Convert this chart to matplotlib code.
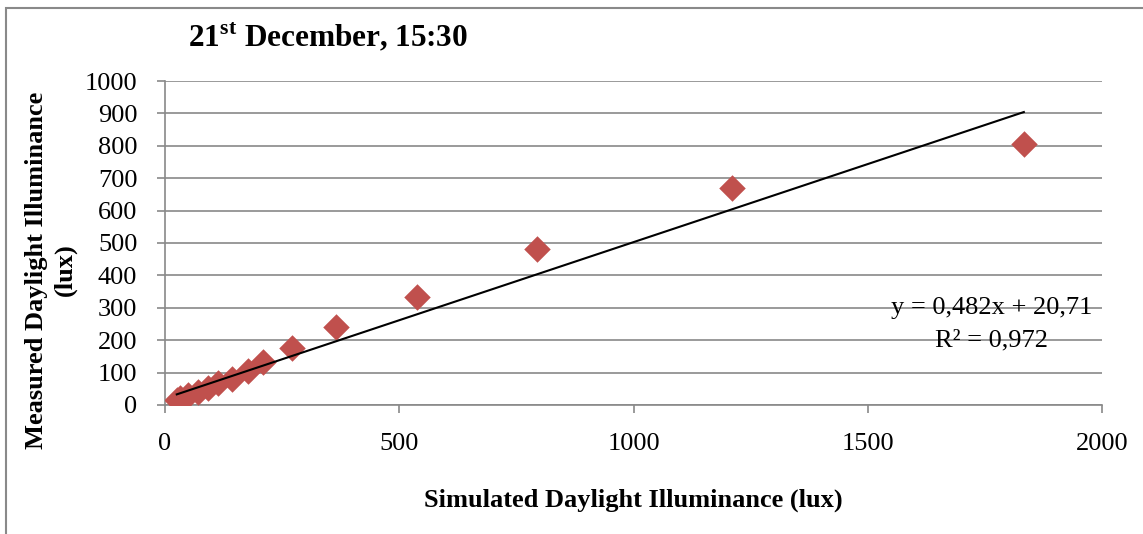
import numpy as np
import matplotlib
matplotlib.use("Agg")
import matplotlib.pyplot as plt
from matplotlib.patches import Rectangle

# values
simulated = [25, 32, 50, 70, 91, 114, 142, 176, 208, 272, 364, 538, 794, 1211, 1833]
measured = [15, 21, 31, 41, 53, 67, 80, 105, 134, 175, 240, 334, 481, 669, 806]
slope = 0.482
intercept = 20.71
r_squared = 0.972
x_ticks = [0, 500, 1000, 1500, 2000]
y_ticks = [0, 100, 200, 300, 400, 500, 600, 700, 800, 900, 1000]

plt.rcParams["font.family"] = ["Liberation Serif", "DejaVu Serif"]
plt.rcParams["mathtext.fontset"] = "custom"
plt.rcParams["mathtext.rm"] = "Liberation Serif"
plt.rcParams["mathtext.bf"] = "Liberation Serif:bold"

grey = "#898989"
fig = plt.figure(figsize=(11.43, 5.34), dpi=100)
ax = fig.add_axes([0.1444, 0.2416, 0.8198, 0.6067])

# outer chart border (cut off on right and bottom)
fig.patches.append(Rectangle((6 / 1143, -0.1), 1.2, 1 - 8.5 / 534 + 0.1,
                             transform=fig.transFigure, fill=False,
                             edgecolor=grey, linewidth=1.5))

ax.scatter(simulated, measured, marker="D", s=13.5 ** 2, color="#C0504D",
           linewidths=0, zorder=3)

# linear trendline over the data range
xs = np.array([min(simulated), max(simulated)])
ax.plot(xs, slope * xs + intercept, color="black", linewidth=1.5, zorder=4)

ax.set_xlim(0, 2000)
ax.set_ylim(0, 1000)
ax.set_xticks(x_ticks)
ax.set_yticks(y_ticks)
ax.yaxis.grid(True, color=grey, linewidth=1.2)
ax.set_axisbelow(True)
for side in ["top", "right"]:
    ax.spines[side].set_visible(False)
for side in ["left", "bottom"]:
    ax.spines[side].set_color(grey)
    ax.spines[side].set_linewidth(1.2)
ax.tick_params(axis="both", colors=grey, length=6, width=1.2, labelsize=19,
               labelcolor="black")
ax.tick_params(axis="y", pad=14)
ax.tick_params(axis="x", pad=14)

ax.set_xlabel("Simulated Daylight Illuminance (lux)", fontsize=19,
              fontweight="bold", labelpad=24)

fig.text(51 / 1143, 1 - 270 / 534, "Measured Daylight Illuminance\n(lux)",
         fontsize=19, fontweight="bold", rotation=90, ha="center",
         va="center", multialignment="center", linespacing=1.35)

fig.text(188 / 1143, 1 - 37 / 534, r"21$^{\mathbf{st}}$ December, 15:30",
         fontsize=22.5, fontweight="bold", va="center", ha="left")

ax.text(1765, 300.5,
        "y = {:.3f}x + {:.2f}".format(slope, intercept).replace(".", ","),
        fontsize=19, ha="center", va="center")
ax.text(1765, 200.6,
        "R\u00b2 = {:.3f}".format(r_squared).replace(".", ","),
        fontsize=19, ha="center", va="center")

fig.savefig("out.png", dpi=100)
